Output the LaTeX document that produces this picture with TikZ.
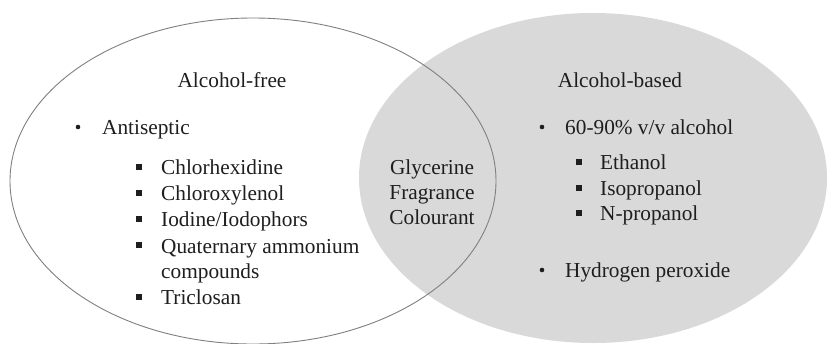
\documentclass[tikz,border=0pt]{standalone}
\usepackage{fontspec}
\setmainfont{Liberation Serif}
\definecolor{venngray}{HTML}{D9D9DA}
\definecolor{edgegray}{HTML}{808080}
\definecolor{txt}{HTML}{1E1E1E}
\begin{document}
\begin{tikzpicture}[x=1pt,y=-1pt,
  lbl/.style={anchor=mid west,inner sep=0pt,yshift=-5pt,text=txt,font=\fontsize{21.3}{26}\selectfont},
  title/.style={anchor=mid,inner sep=0pt,yshift=-5pt,text=txt,font=\fontsize{21.3}{26}\selectfont},
  midtxt/.style={anchor=mid,inner sep=0pt,yshift=-5pt,text=txt,font=\fontsize{21.3}{26}\selectfont},
  rbul/.style={circle,fill=txt,inner sep=0pt,minimum size=4.6pt},
  sbul/.style={rectangle,fill=txt,inner sep=0pt,minimum size=6pt}]
\useasboundingbox (0,0) rectangle (827,343);
\clip (0,0) rectangle (827,343);
\fill[white] (0,0) rectangle (827,343);
% right set (filled)
\fill[venngray] (593,178) ellipse [x radius=234pt, y radius=165pt];
% left set (outline)
\draw[edgegray,line width=0.9pt] (253,181) ellipse [x radius=243pt, y radius=163pt];
% left titles and list
\node[title] (af) at (232,80) {Alcohol-free};
\node[rbul] (b0) at (78,127) {};
\node[lbl] (ant) at (102,127) {Antiseptic};
\node[sbul] (s1) at (139,167) {};
\node[lbl] (t1) at (161,167) {Chlorhexidine};
\node[sbul] (s2) at (139,193) {};
\node[lbl] (t2) at (161,193) {Chloroxylenol};
\node[sbul] (s3) at (139,219) {};
\node[lbl] (t3) at (161,219) {Iodine/Iodophors};
\node[sbul] (s4) at (139,245) {};
\node[lbl] (t4) at (161,246) {Quaternary ammonium};
\node[lbl] (t4b) at (161,271) {compounds};
\node[sbul] (s5) at (139,297) {};
\node[lbl] (t5) at (161,297) {Triclosan};
% intersection
\node[midtxt] (g1) at (432,167) {Glycerine};
\node[midtxt] (g2) at (432,192) {Fragrance};
\node[midtxt] (g3) at (432,217) {Colourant};
% right titles and list
\node[title] (ab) at (620,80) {Alcohol-based};
\node[rbul] (c0) at (542,127) {};
\node[lbl] (alc) at (565,127) {60-90\% v/v alcohol};
\node[sbul] (r1) at (579,162) {};
\node[lbl] (u1) at (600,162) {Ethanol};
\node[sbul] (r2) at (579,188) {};
\node[lbl] (u2) at (600,188) {Isopropanol};
\node[sbul] (r3) at (579,213) {};
\node[lbl] (u3) at (600,213) {N-propanol};
\node[rbul] (c1) at (542,270) {};
\node[lbl] (hp) at (565,270) {Hydrogen peroxide};
\end{tikzpicture}
\end{document}
